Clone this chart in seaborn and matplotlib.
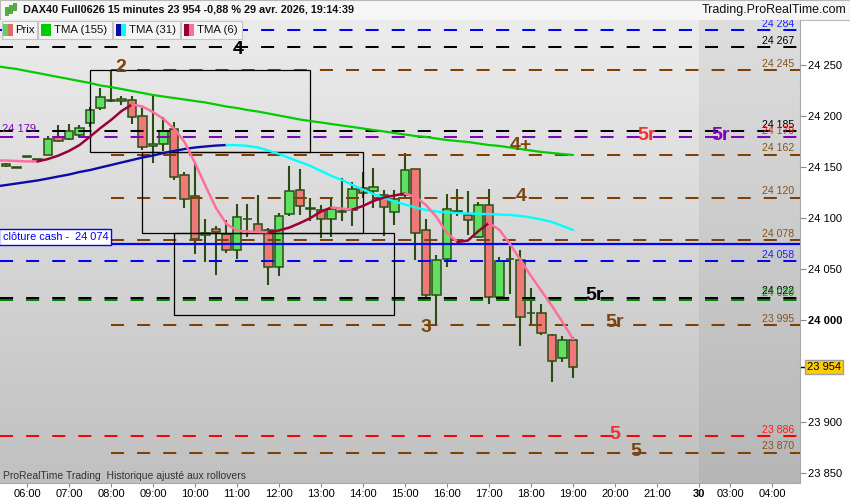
import numpy as np
import pandas as pd
import matplotlib
matplotlib.use("Agg")
import matplotlib.pyplot as plt
import seaborn as sns
from matplotlib.patches import Rectangle
from matplotlib.transforms import blended_transform_factory

# ---------------- data ----------------
opens = [24152.5, 24149.5, 24160, 24157, 24162, 24179, 24177, 24181, 24193, 24208,
         24215, 24214.5, 24216, 24200, 24170, 24172.5, 24187, 24142, 24121, 24083,
         24089, 24084, 24068.5, 24098.5, 24094, 24088, 24052, 24103.5, 24127.5, 24109,
         24108, 24099, 24106, 24108, 24129, 24126, 24122.5, 24106, 24122.5, 24147.5,
         24088, 24024.5, 24059.5, 24106, 24103, 24081, 24113, 24023, 24059.5, 24059,
         24006.5, 24006.5, 23985, 23962.5, 23980]
closes = [24150.5, 24149, 24160, 24157, 24177, 24175.5, 24185, 24188, 24206, 24218,
          24215.5, 24216.5, 24199, 24169, 24172, 24185.5, 24140, 24119, 24079, 24085.5,
          24086.5, 24069, 24101, 24099, 24086.5, 24052, 24102, 24126.5, 24112, 24109,
          24099, 24109, 24106, 24128, 24124, 24130, 24110.5, 24119, 24147, 24085.5,
          24024.5, 24059, 24108.5, 24106, 24097.5, 24113, 24023, 24058, 24059.5, 24002.5,
          24006.5, 23987, 23960, 23980, 23954]
highs = [24153.5, 24150, 24160.5, 24157.5, 24180, 24191, 24192, 24191, 24209, 24227,
         24244, 24219.5, 24219, 24207.5, 24219.5, 24199, 24194, 24145, 24153, 24099,
         24092, 24098, 24114, 24113.5, 24122.5, 24090, 24105, 24151, 24147.5, 24120,
         24113, 24120, 24139, 24135.5, 24145, 24148.5, 24127, 24127.5, 24164, 24148,
         24099, 24064, 24123.5, 24128, 24126.5, 24116, 24128, 24062, 24072, 24069,
         24031, 24016, 23986, 23984, 23983.5]
lows = [24149.5, 24148.5, 24159.5, 24156.5, 24161.5, 24174.5, 24176, 24179, 24189.5, 24206,
        24214, 24211, 24192, 24166.5, 24153.5, 24166, 24137, 24109.5, 24064.5, 24057,
        24044, 24066, 24060, 24081.5, 24084, 24034, 24043, 24102, 24103, 24097,
        24080, 24081, 24097, 24092, 24120, 24109.5, 24082, 24093, 24120, 24059,
        24022, 23995, 24052, 24102, 24083, 24080, 24015.5, 24022, 24025.5, 23974.5,
        23995, 23985, 23939.5, 23959, 23943]

# moving averages, one value per bar starting one bar before the first candle
tma155 = [24248.8, 24247.3, 24245.9, 24243.9, 24242.0, 24240.0, 24238.0, 24236.1, 24234.1, 24232.2,
          24229.7, 24228.2, 24226.3, 24224.3, 24222.4, 24220.4, 24218.9, 24217.5, 24216.0, 24214.5,
          24213.1, 24211.1, 24209.1, 24207.7, 24205.7, 24204.2, 24202.3, 24200.3, 24198.4, 24196.4,
          24194.9, 24193.5, 24192.0, 24190.5, 24189.1, 24187.6, 24186.1, 24184.7, 24183.2, 24181.7,
          24180.2, 24179.3, 24177.8, 24176.3, 24175.3, 24174.4, 24172.9, 24171.4, 24170.5, 24169.0,
          24167.5, 24166.0, 24164.6, 24163.6, 24162.6, 24161.6]
tma31 = [24130.8, 24132.2, 24133.7, 24135.2, 24136.7, 24138.6, 24140.6, 24142.5, 24145.0, 24146.9,
         24149.4, 24151.8, 24154.3, 24156.7, 24159.2, 24161.1, 24163.6, 24165.6, 24167.5, 24169.0,
         24170.0, 24170.9, 24171.4, 24171.2, 24170.6, 24169.0, 24166.0, 24162.6, 24158.7, 24154.8,
         24150.9, 24146.0, 24141.1, 24137.1, 24132.2, 24127.8, 24123.4, 24119.5, 24116.1, 24113.1,
         24110.2, 24107.8, 24106.3, 24105.3, 24104.8, 24104.3, 24104.0, 24103.8, 24103.3, 24102.9,
         24101.9, 24100.4, 24098.4, 24096.0, 24092.1, 24088.2]
tma6 = [24156.2, 24156.2, 24155.8, 24155.3, 24155.3, 24157.7, 24161.1, 24165.6, 24171.4, 24179.6,
        24188.1, 24195.9, 24204.7, 24211.1, 24209.1, 24203.8, 24196.9, 24187.6, 24174.4, 24153.8,
        24131.3, 24109.7, 24094.0, 24087.7, 24086.7, 24086.2, 24085.9, 24087.7, 24090.6, 24095.0,
        24099.9, 24106.3, 24110.2, 24109.2, 24108.2, 24111.7, 24116.6, 24120.0, 24122.0, 24123.9,
        24120.5, 24112.7, 24100.9, 24085.2, 24076.4, 24077.9, 24087.2, 24095.0, 24088.2, 24074.4,
        24058.8, 24043.1, 24028.4, 24013.7, 23998.0, 23981.4]

# horizontal levels
level_prices = [24284, 24267, 24245, 24185, 24179, 24162, 24120, 24078, 24058, 24022, 24020, 23995, 23886, 23870]
level_kinds = ["blue", "black", "brown", "black", "purple", "brown", "brown", "brown", "blue",
               "black", "green", "brown", "red", "brown"]
level_label_kinds = ["blue", "black", "brown", "black", "red", "brown", "brown", "brown", "blue",
                     "black", "green", "brown", "red", "brown"]
level_start_bar = [None, None, 10, None, None, 10, 10, 10, None, None, None, 10, None, 10]
cash_close = 24074

# target tags
tag_texts = ["2", "4", "4+", "4", "3", "5r", "5r", "5r", "5r", "5", "5"]
tag_bars = [10.95, 22.1, 49.05, 49.05, 39.97, 61.05, 68.1, 56.1, 58.0, 58.0, 60.0]
tag_prices = [24247.5, 24265, 24170.5, 24120.5, 23993, 24181, 24181, 24024, 23997.5, 23888, 23871.5]
tag_kinds = ["brown", "black", "brown", "brown", "brown", "red", "purple", "black", "brown", "red", "brown"]

# boxes (bar index start/end, price low/high)
box_x0 = [8, 13, 16]
box_x1 = [29, 34, 37]
box_lo = [24164.5, 24085, 24005]
box_hi = [24245, 24164.5, 24085]

# axis ticks
ytick_vals = [23850, 23900, 24000, 24050, 24100, 24150, 24200, 24250]
xtick_pos = [2, 6, 10, 14, 18, 22, 26, 30, 34, 38, 42, 46, 50, 54, 58, 62, 66, 69, 73]
xtick_labels = ["06:00", "07:00", "08:00", "09:00", "10:00", "11:00", "12:00", "13:00", "14:00",
                "15:00", "16:00", "17:00", "18:00", "19:00", "20:00", "21:00", "30", "03:00", "04:00"]
next_day_bar = 66
last_price = 23954

# ---------------- style ----------------
sns.set_theme(style="white")
plt.rcParams['font.family'] = ['Liberation Sans', 'DejaVu Sans']
plt.rcParams['lines.scale_dashes'] = False

COL = {"blue": "#0000ff", "black": "#000000", "brown": "#7f4000", "purple": "#8000c0",
       "green": "#008000", "red": "#ff0000"}
TXT = {"blue": "#2020ff", "black": "#000000", "brown": "#85531f", "purple": "#8000c0",
       "green": "#1a9a1a", "red": "#ff1a1a"}
TAG = {"blue": "#0000ff", "black": "#000000", "brown": "#7a4510", "purple": "#8000c0",
       "red": "#ee3333"}

W, H = 850, 500
fig = plt.figure(figsize=(W / 100, H / 100), dpi=100)
fig.patch.set_facecolor("white")
ax = fig.add_axes([0, 17 / H, 800 / W, 463 / H])

XMIN, XMAX = -0.571, 75.62
YMIN, YMAX = 23840.3, 24293.9

# background gradient
N = 256
g = np.linspace(0, 1, N)[:, None, None]
def grad(top, bot):
    t = np.array(top) / 255.0
    b = np.array(bot) / 255.0
    return t * (1 - g) + b * g
ax.imshow(grad([236, 236, 236], [192, 192, 192]), extent=[XMIN, next_day_bar, YMIN, YMAX],
          aspect='auto', origin='upper', zorder=0)
ax.imshow(grad([222, 222, 222], [182, 182, 182]), extent=[next_day_bar, XMAX, YMIN, YMAX],
          aspect='auto', origin='upper', zorder=0)

# candles
x = np.arange(len(opens))
o = np.array(opens); c = np.array(closes); hi = np.array(highs); lo = np.array(lows)
up = c >= o
edge = "#2b4d12"
ax.vlines(x, lo, hi, color=edge, lw=1.5, zorder=2)
body_bottom = np.minimum(o, c)
body_h = np.maximum(np.abs(c - o), 0.3)
ax.bar(x, body_h, bottom=body_bottom, width=0.8,
       color=np.where(up, "#60e060", "#ef7878"), edgecolor=edge, linewidth=1.1, zorder=2.5)

# levels
dash = (0, (9.4, 9.4))
for p, k, s in zip(level_prices, level_kinds, level_start_bar):
    xs = XMIN if s is None else s
    ax.plot([xs, XMAX], [p, p], color=COL[k], lw=1.45, linestyle=dash, zorder=3,
            dash_capstyle='butt', solid_capstyle='butt')
ax.plot([XMIN, XMAX], [cash_close, cash_close], color="#0000ff", lw=1.6, zorder=3)

for p, k in zip(level_prices, level_label_kinds):
    ax.text(75.05, p + 1.2, f"{p:,}".replace(",", " "), color=TXT[k], fontsize=7.6,
            ha='right', va='bottom', zorder=6, clip_on=True)

# boxes
for a, b, l, h_ in zip(box_x0, box_x1, box_lo, box_hi):
    ax.add_patch(Rectangle((a, l), b - a, h_ - l, fill=False, ec="black", lw=0.9, zorder=3))

# moving averages
tx = np.arange(-1, len(opens))
df155 = pd.DataFrame({"bar": tx, "v": tma155})
sns.lineplot(data=df155, x="bar", y="v", color="#00cc00", lw=1.6, ax=ax, zorder=4, sort=False)

def two_color(vals, rise_col, fall_col, lw):
    v = np.array(vals)
    state = np.diff(v) > 0
    start = 0
    for i in range(1, len(state) + 1):
        if i == len(state) or state[i] != state[start]:
            seg = pd.DataFrame({"bar": tx[start:i + 1], "v": v[start:i + 1]})
            sns.lineplot(data=seg, x="bar", y="v", color=rise_col if state[start] else fall_col,
                         lw=lw, ax=ax, zorder=4, sort=False)
            start = i

two_color(tma31, "#0b0ba8", "#00ffff", 1.7)
two_color(tma6, "#9a0038", "#ff6f9a", 1.8)

# tags
for t, bx, p, k in zip(tag_texts, tag_bars, tag_prices, tag_kinds):
    ax.text(bx, p, t, color=TAG[k], fontsize=14, fontweight='bold', ha='center', va='center',
            zorder=6)

# left labels
ax.text(-0.4, 24187, "24 179", color="#8000c0", fontsize=8, ha='left', va='center', zorder=6)
ax.text(-0.33, 24081.3, "cl\u00f4ture cash -  24 074", color="#0000ff", fontsize=7.9,
        ha='left', va='center', zorder=6,
        bbox=dict(boxstyle='square,pad=0.3', fc='white', ec='#0000ff', lw=1))
ax.text(0.004, 7 / 463, "ProRealTime Trading  Historique ajust\u00e9 aux rollovers",
        transform=ax.transAxes, fontsize=7.5, color="#333333", ha='left', va='center', zorder=6)

# axes
ax.set_xlim(XMIN, XMAX)
ax.set_ylim(YMIN, YMAX)
ax.set_xlabel(""); ax.set_ylabel("")
ax.yaxis.tick_right()
ax.set_yticks(ytick_vals)
ax.set_yticklabels([f"{v:,}".replace(",", " ") for v in ytick_vals])
for lab, v in zip(ax.get_yticklabels(), ytick_vals):
    if v == 24000:
        lab.set_fontweight('bold')
        lab.set_fontsize(8.5)
ax.tick_params(axis='y', which='both', right=True, left=False, length=4, width=0.8,
               color='#888888', labelsize=8, pad=2, labelcolor='black')
ax.set_xticks(xtick_pos)
ax.set_xticklabels(xtick_labels)
for lab, t in zip(ax.get_xticklabels(), xtick_labels):
    if t == "30":
        lab.set_fontweight('bold')
        lab.set_fontsize(9)
ax.tick_params(axis='x', which='both', bottom=True, length=3, width=0.8, color='#888888',
               labelsize=8, pad=1.5, labelcolor='black')
for s in ["top", "left"]:
    ax.spines[s].set_visible(False)
for s in ["right", "bottom"]:
    ax.spines[s].set_color("#a8a8a8")
    ax.spines[s].set_linewidth(0.8)
ax.grid(False)

# last price marker
tr = blended_transform_factory(ax.transAxes, ax.transData)
ax.plot([1.0, 1.006], [last_price, last_price], color='black', lw=1, transform=tr, clip_on=False)
ax.text(1.0085, last_price, f"{last_price:,}".replace(",", " "), transform=tr, fontsize=8,
        ha='left', va='center', color='black', clip_on=False,
        bbox=dict(boxstyle='square,pad=0.2', fc='#ffcc00', ec='#a0a0a0', lw=1))

# title bar
def fx(px): return px / W
def fy(py): return 1 - py / H
fig.add_artist(Rectangle((0, fy(20)), 1, 20 / H, transform=fig.transFigure,
                         facecolor='#f6f6f6', edgecolor='#b8b8b8', lw=0.8, zorder=0))
fig.text(fx(23), fy(10), "DAX40 Full0626 15 minutes 23 954 -0,88 % 29 avr. 2026, 19:14:39",
         fontsize=7.8, fontweight='bold', ha='left', va='center', color='#111111')
fig.text(fx(846), fy(10), "Trading.ProRealTime.com", fontsize=9, ha='right', va='center',
         color='#111111')
# small candle icon
for cx, cy0, cy1, col in [(6, 7, 15, '#44bb33'), (10, 5, 13, '#44bb33'), (14, 3, 10, '#44bb33')]:
    fig.add_artist(Rectangle((fx(cx - 1.5), fy(cy1)), 3 / W, (cy1 - cy0) / H,
                             transform=fig.transFigure, fc=col, ec='#336622', lw=0.4))

# legend row
legend_items = [("Prix", 1.7, 36.7, 2.7, ("#5fcf5f", "#e06a6a")),
                ("TMA (155)", 37.7, 112.3, 41, ("#00cc00", "#00cc00")),
                ("TMA (31)", 113, 180, 116, ("#0b0ba8", "#00ffff")),
                ("TMA (6)", 180.7, 242.3, 184, ("#9a0038", "#ff6f9a"))]
for name, x0, x1, sx, cols in legend_items:
    fig.add_artist(Rectangle((fx(x0), fy(39)), (x1 - x0) / W, 17.5 / H, transform=fig.transFigure,
                             fc='#f4f4f4', ec='#c4c4c4', lw=0.8, zorder=5))
    fig.add_artist(Rectangle((fx(sx), fy(35.5)), 5 / W, 11.5 / H, transform=fig.transFigure,
                             fc=cols[0], ec='none', zorder=6))
    fig.add_artist(Rectangle((fx(sx + 5), fy(35.5)), 5 / W, 11.5 / H, transform=fig.transFigure,
                             fc=cols[1], ec='none', zorder=6))
    fig.text(fx(sx + 12.8), fy(30), name, fontsize=8.2, ha='left', va='center', color='#111111',
             zorder=7)

fig.savefig("out.png", dpi=100)
